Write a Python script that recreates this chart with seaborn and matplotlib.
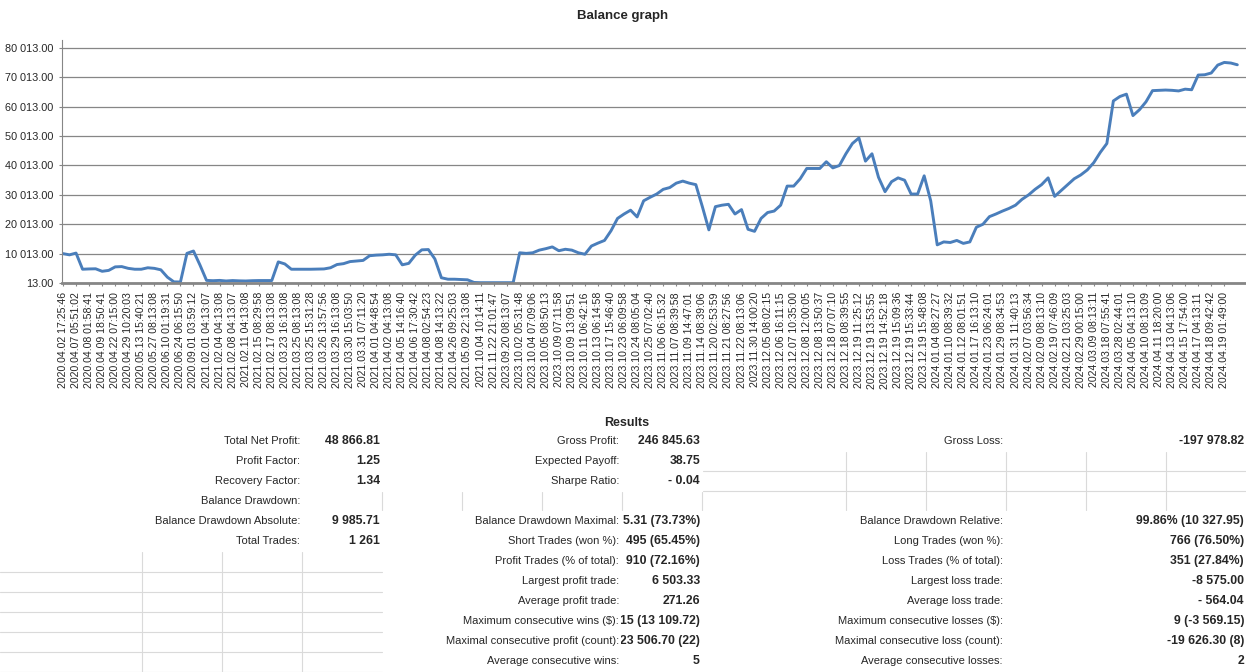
import numpy as np
import seaborn as sns
import matplotlib.pyplot as plt
from matplotlib.lines import Line2D
from matplotlib.transforms import Bbox, TransformedBbox

# Balance, one value every 7 trades
balance = [
    10013, 9600, 10200, 4700, 4800, 4850, 4000, 4300, 5500, 5600,
    5000, 4700, 4700, 5200, 5000, 4500, 2000, 400, 350, 10100,
    10900, 6100, 900, 800, 900, 700, 850, 750, 700, 800,
    850, 850, 850, 7200, 6500, 4700, 4700, 4700, 4700, 4750,
    4800, 5200, 6300, 6600, 7300, 7500, 7700, 9300, 9500, 9600,
    9800, 9600, 6200, 6700, 9500, 11300, 11400, 8200, 1800, 1300,
    1300, 1200, 1100, 200, 120, 120, 120, 120, 120, 120,
    10300, 10100, 10300, 11200, 11700, 12300, 11000, 11500, 11200, 10300,
    9800, 12600, 13600, 14500, 17800, 22000, 23500, 24800, 22500, 28000,
    29200, 30300, 31900, 32500, 34000, 34700, 34000, 33500, 26000, 18100,
    26000, 26500, 26800, 23500, 25000, 18300, 17600, 22000, 24000, 24500,
    26500, 33000, 33000, 35500, 39000, 39000, 39000, 41300, 39200, 40000,
    44000, 47500, 49400, 41500, 44000, 36000, 31100, 34500, 35800, 35000,
    30300, 30300, 36500, 28000, 13000, 14000, 13800, 14500, 13500, 14000,
    19000, 20000, 22600, 23500, 24500, 25400, 26500, 28500, 30000, 31900,
    33500, 35800, 29500, 31500, 33500, 35500, 36800, 38500, 41000, 44500,
    47500, 62000, 63500, 64300, 57000, 59000, 61700, 65500, 65600, 65700,
    65600, 65400, 66000, 65800, 70800, 70900, 71500, 74200, 75100, 74900,
    74300,
]

tick_labels = [
    "2020.04.02 17:25:46", "2020.04.07 05:51:02", "2020.04.08 01:58:41", "2020.04.09 18:50:41",
    "2020.04.22 07:15:00", "2020.04.29 10:20:03", "2020.05.13 15:40:21", "2020.05.27 08:13:08",
    "2020.06.10 01:19:31", "2020.06.24 06:15:50", "2020.09.01 03:59:12", "2021.02.01 04:13:07",
    "2021.02.04 04:13:08", "2021.02.08 04:13:07", "2021.02.11 04:13:08", "2021.02.15 08:29:58",
    "2021.02.17 08:13:08", "2021.03.23 16:13:08", "2021.03.25 08:13:08", "2021.03.25 15:31:28",
    "2021.03.26 13:57:56", "2021.03.29 16:13:08", "2021.03.30 15:03:50", "2021.03.31 07:11:20",
    "2021.04.01 04:48:54", "2021.04.02 04:13:08", "2021.04.05 14:16:40", "2021.04.06 17:30:42",
    "2021.04.08 02:54:23", "2021.04.08 14:13:22", "2021.04.26 09:25:03", "2021.05.09 22:13:08",
    "2021.10.04 10:14:11", "2021.11.22 21:01:47", "2023.09.20 08:13:07", "2023.10.02 05:31:48",
    "2023.10.04 07:09:06", "2023.10.05 08:50:13", "2023.10.09 07:11:58", "2023.10.09 13:09:51",
    "2023.10.11 06:42:16", "2023.10.13 06:14:58", "2023.10.17 15:46:40", "2023.10.23 06:09:58",
    "2023.10.24 08:05:04", "2023.10.25 07:02:40", "2023.11.06 06:15:32", "2023.11.07 08:39:58",
    "2023.11.09 14:47:01", "2023.11.14 08:39:06", "2023.11.20 02:53:59", "2023.11.21 08:27:56",
    "2023.11.22 08:13:06", "2023.11.30 14:00:20", "2023.12.05 08:02:15", "2023.12.06 16:11:15",
    "2023.12.07 10:35:00", "2023.12.08 12:00:05", "2023.12.08 13:50:37", "2023.12.18 07:07:10",
    "2023.12.18 08:39:55", "2023.12.19 11:25:12", "2023.12.19 13:53:55", "2023.12.19 14:52:18",
    "2023.12.19 15:09:36", "2023.12.19 15:33:44", "2023.12.19 15:48:08", "2024.01.04 08:27:27",
    "2024.01.10 08:39:32", "2024.01.12 08:01:51", "2024.01.17 16:13:10", "2024.01.23 06:24:01",
    "2024.01.29 08:34:53", "2024.01.31 11:40:13", "2024.02.07 03:56:34", "2024.02.09 08:13:10",
    "2024.02.19 07:46:09", "2024.02.21 03:25:03", "2024.02.29 00:15:00", "2024.03.09 08:13:11",
    "2024.03.18 07:55:41", "2024.03.28 02:44:01", "2024.04.05 04:13:10", "2024.04.10 08:13:09",
    "2024.04.11 18:20:00", "2024.04.13 04:13:06", "2024.04.15 17:54:00", "2024.04.17 04:13:11",
    "2024.04.18 09:42:42", "2024.04.19 01:49:00",
]

y_ticks = [13, 10013, 20013, 30013, 40013, 50013, 60013, 70013, 80013]

# Results table: (label, value) per column, row by row
col_a = [
    ("Total Net Profit:", "48 866.81"),
    ("Profit Factor:", "1.25"),
    ("Recovery Factor:", "1.34"),
    ("Balance Drawdown:", ""),
    ("Balance Drawdown Absolute:", "9 985.71"),
    ("Total Trades:", "1 261"),
]
col_b = [
    ("Gross Profit:", "246 845.63"),
    ("Expected Payoff:", "38.75"),
    ("Sharpe Ratio:", "- 0.04"),
    ("", ""),
    ("Balance Drawdown Maximal:", "5.31 (73.73%)"),
    ("Short Trades (won %):", "495 (65.45%)"),
    ("Profit Trades (% of total):", "910 (72.16%)"),
    ("Largest profit trade:", "6 503.33"),
    ("Average profit trade:", "271.26"),
    ("Maximum consecutive wins ($):", "15 (13 109.72)"),
    ("Maximal consecutive profit (count):", "23 506.70 (22)"),
    ("Average consecutive wins:", "5"),
]
col_c = [
    ("Gross Loss:", "-197 978.82"),
    ("", ""),
    ("", ""),
    ("", ""),
    ("Balance Drawdown Relative:", "99.86% (10 327.95)"),
    ("Long Trades (won %):", "766 (76.50%)"),
    ("Loss Trades (% of total):", "351 (27.84%)"),
    ("Largest loss trade:", "-8 575.00"),
    ("Average loss trade:", "- 564.04"),
    ("Maximum consecutive losses ($):", "9 (-3 569.15)"),
    ("Maximal consecutive loss (count):", "-19 626.30 (8)"),
    ("Average consecutive losses:", "2"),
]

sns.set_style("white")
plt.rcParams['font.family'] = ['Liberation Sans', 'DejaVu Sans']

W, H = 1246, 672
fig = plt.figure(figsize=(W / 100, H / 100), dpi=100)


def fx(x):
    return x / W


def fy(y):
    return 1 - y / H


# Step 1: balance chart
ax = fig.add_axes([fx(62), fy(283), fx(1246 - 62), (283 - 40) / H])
trades = np.arange(len(balance)) * 7
sns.lineplot(x=trades, y=balance, color="#4a7ebb", linewidth=2.1, ax=ax)

ax.set_xlim(-1.07, 1269.3)
ax.set_ylim(13, 82736)
ax.set_yticks(y_ticks)
ax.set_yticklabels([f"{v:,.2f}".replace(",", " ") for v in y_ticks])
ax.set_xticks(np.arange(len(tick_labels)) * 14)
ax.set_xticklabels(tick_labels, rotation=90)
ax.tick_params(axis="y", labelsize=7.8, length=2.5, color="#868686", pad=4, left=True)
ax.tick_params(axis="x", labelsize=7.6, length=2.5, color="#868686", pad=4, bottom=True)
ax.yaxis.grid(True, color="#868686", linewidth=0.9)
ax.set_axisbelow(True)
for side in ["top", "right"]:
    ax.spines[side].set_visible(False)
ax.spines["left"].set_color("#868686")
ax.spines["left"].set_linewidth(0.8)
ax.spines["bottom"].set_color("#868686")
ax.spines["bottom"].set_linewidth(2.0)

fig.text(0.5, fy(16), "Balance graph", ha="center", va="center", fontsize=9.5, weight="bold")

# Step 2: results table
fig.text(fx(627), fy(423), "Results", ha="center", va="center", fontsize=9, weight="bold")

# middle column values are cut off by their cell, as in the report
clip_b = TransformedBbox(Bbox([[fx(621), 0], [fx(702), 1]]), fig.transFigure)


def put_column(rows, lab_x, val_x, clip=None):
    for r, (lab, val) in enumerate(rows):
        y = fy(441 + 20 * r)
        if lab:
            fig.text(fx(lab_x), y, lab, ha="right", va="center", fontsize=8)
        if val:
            t = fig.text(fx(val_x), y, val, ha="right", va="center", fontsize=8.8, weight="bold")
            if clip is not None:
                t.set_clip_box(clip)
                t.set_clip_on(True)


put_column(col_a, 300, 380)
put_column(col_b, 619, 700, clip_b)
put_column(col_c, 1003, 1244)

grid_col = "#dadada"


def seg(x0, y0, x1, y1):
    fig.add_artist(Line2D([fx(x0), fx(x1)], [fy(y0), fy(y1)], color=grid_col,
                          linewidth=0.8, transform=fig.transFigure))


for y in [572, 592, 612, 632, 652, 672]:
    seg(0, y, 382, y)
for x in [142, 222, 302]:
    seg(x, 552, x, 672)
for x in [382, 462, 542, 622, 702]:
    seg(x, 492, x, 510)
for y in [471, 491]:
    seg(703, y, 1246, y)
for x in [846, 926, 1006, 1086, 1166]:
    seg(x, 452, x, 510)

plt.savefig("out.png", dpi=100)
